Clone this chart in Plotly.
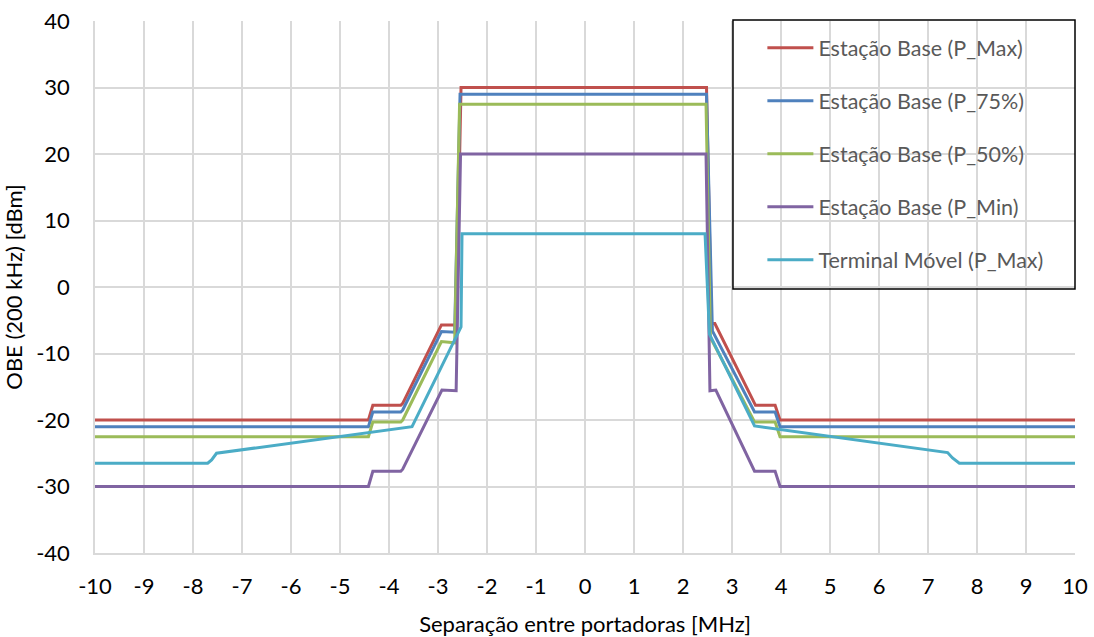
import plotly.graph_objects as go

# Out-of-band emission masks, OBE in a 200 kHz band versus carrier offset
series_names = [
    "Estação Base (P_Max)",
    "Estação Base (P_75%)",
    "Estação Base (P_50%)",
    "Estação Base (P_Min)",
    "Terminal Móvel (P_Max)",
]
series_colors = ["#C0504D", "#4F81BD", "#9BBB59", "#8064A2", "#4BACC6"]

bs_max_x = [-10, -4.42, -4.33, -3.76, -3.72, -2.93, -2.66, -2.63, -2.53, 2.48, 2.58, 2.65, 3.48, 3.88, 3.98, 10]
bs_max_y = [-20, -20, -17.8, -17.8, -17.5, -5.7, -5.7, -5.9, 30, 30, -5.5, -5.5, -17.8, -17.8, -20, -20]

bs_75_x = [-10, -4.42, -4.33, -3.76, -3.72, -2.93, -2.66, -2.55, 2.48, 2.6, 3.46, 3.88, 3.98, 10]
bs_75_y = [-21, -21, -18.8, -18.8, -18.5, -6.7, -6.8, 29, 29, -6.6, -18.8, -18.8, -21, -21]

bs_50_x = [-10, -4.42, -4.33, -3.76, -3.72, -2.93, -2.66, -2.56, 2.47, 2.56, 3.46, 3.88, 3.98, 10]
bs_50_y = [-22.5, -22.5, -20.3, -20.3, -20.0, -8.2, -8.4, 27.5, 27.5, -7.6, -20.3, -20.3, -22.5, -22.5]

bs_min_x = [-10, -4.42, -4.33, -3.76, -3.72, -2.92, -2.63, -2.54, 2.47, 2.55, 2.67, 3.46, 3.88, 3.98, 10]
bs_min_y = [-30, -30, -27.7, -27.7, -27.4, -15.5, -15.6, 20, 20, -15.6, -15.5, -27.7, -27.7, -30, -30]

ms_max_x = [-10, -7.7, -7.62, -7.52, -3.53, -2.53, -2.51, 2.45, 2.54, 3.46, 7.4, 7.5, 7.64, 10]
ms_max_y = [-26.5, -26.5, -26.0, -25.0, -21.0, -6.0, 8, 8, -7.1, -20.9, -24.9, -25.7, -26.5, -26.5]

series_x = [bs_max_x, bs_75_x, bs_50_x, bs_min_x, ms_max_x]
series_y = [bs_max_y, bs_75_y, bs_50_y, bs_min_y, ms_max_y]

x_ticks = list(range(-10, 11))
y_ticks = list(range(-40, 41, 10))

FONT = "Lato"

fig = go.Figure()
for i, (name, color, xs, ys) in enumerate(zip(series_names, series_colors, series_x, series_y)):
    fig.add_trace(go.Scatter(
        x=xs, y=ys, mode="lines", name=name,
        line=dict(color=color, width=3),
        legendgroup=f"g{i}",
    ))

grid = "#D9D9D9"
fig.update_layout(
    width=1094, height=637,
    margin=dict(l=95, r=19, t=21, b=84, autoexpand=False),
    plot_bgcolor="white", paper_bgcolor="white",
    font=dict(family=FONT, size=22, color="#000000"),
    showlegend=True,
    legend=dict(
        x=0.681, y=0.988, xanchor="left", yanchor="top",
        bgcolor="rgba(0,0,0,0)", borderwidth=0,
        font=dict(family=FONT, size=21.5, color="#595959"),
        tracegroupgap=22, itemwidth=46, traceorder="grouped",
    ),
    shapes=[dict(
        type="rect", xref="paper", yref="paper",
        x0=0.651, x1=1.0, y0=0.4962, y1=1.0019,
        line=dict(color="black", width=1.5), fillcolor="rgba(0,0,0,0)",
        layer="above",
    )],
)
fig.update_xaxes(
    range=[-10, 10], tickvals=x_ticks, ticktext=[str(v) for v in x_ticks],
    showgrid=True, gridcolor=grid, gridwidth=1.5,
    showline=True, linecolor=grid, linewidth=1.5, zeroline=False,
    ticks="", ticklabelstandoff=13, automargin=False,
    title=dict(text="Separação entre portadoras [MHz]", standoff=27,
               font=dict(family=FONT, size=22, color="#000000")),
    tickfont=dict(family=FONT, size=22, color="#000000"),
)
fig.update_yaxes(
    range=[-40, 40], tickvals=y_ticks, ticktext=[str(v) for v in y_ticks],
    showgrid=True, gridcolor=grid, gridwidth=1.5,
    showline=True, linecolor=grid, linewidth=1.5, zeroline=False,
    ticks="", ticklabelstandoff=19, automargin=False,
    title=dict(text="OBE (200 kHz) [dBm]", standoff=8,
               font=dict(family=FONT, size=22, color="#000000")),
    tickfont=dict(family=FONT, size=22, color="#000000"),
)

fig.write_html("out.html")
